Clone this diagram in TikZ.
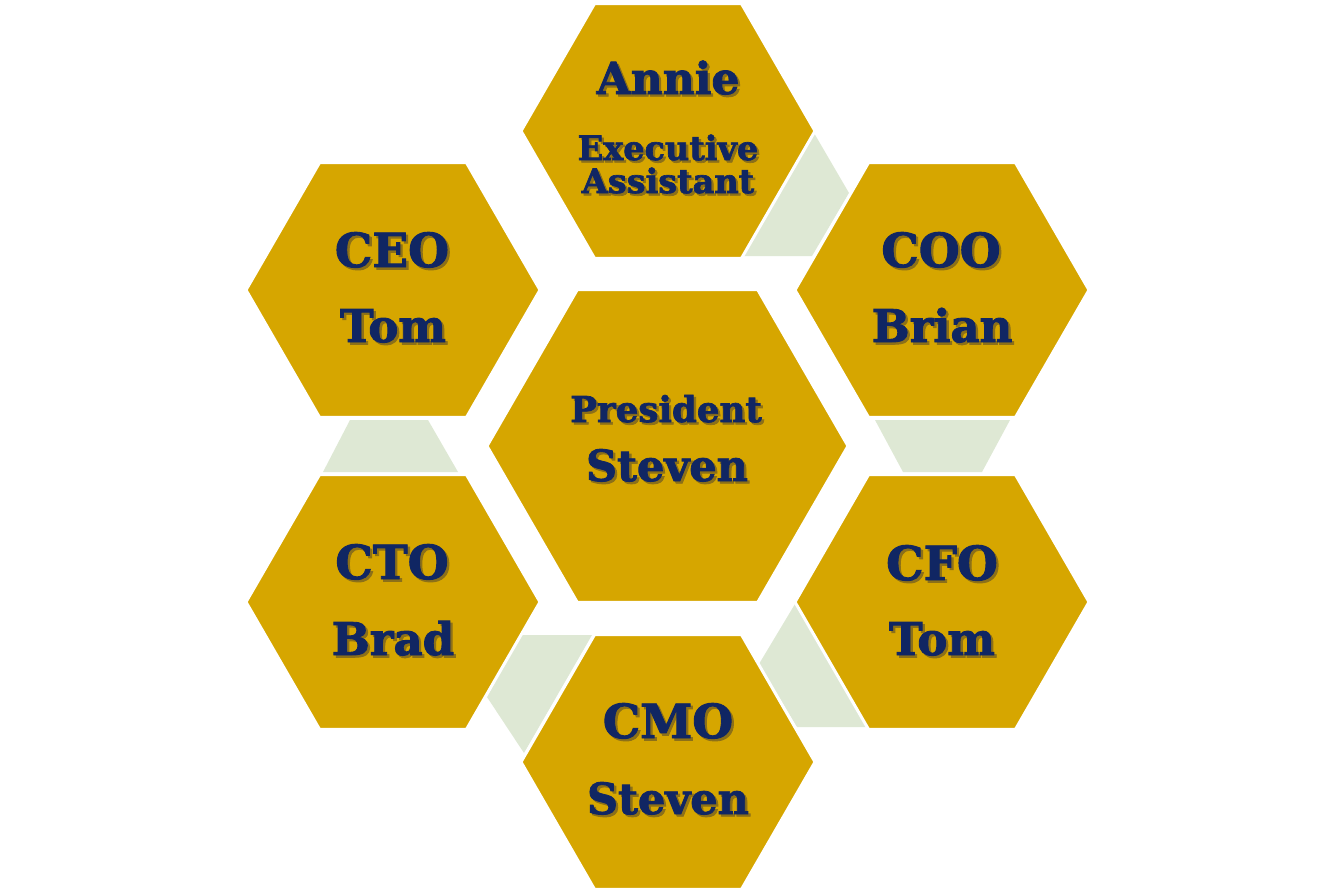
\documentclass[tikz,border=0pt]{standalone}
\usepackage{fontspec}
\setmainfont{DejaVu Serif}[BoldFeatures={FakeBold=2}]
\definecolor{gold}{RGB}{214,166,0}
\definecolor{pale}{RGB}{222,232,212}
\definecolor{navy}{RGB}{16,38,99}
\definecolor{shadowc}{RGB}{140,112,24}
\newcommand\hexat[3]{%
  \draw[hex] ({#1+#3},#2) -- ({#1+#3/2},{#2-0.866*#3}) -- ({#1-#3/2},{#2-0.866*#3})
    -- ({#1-#3},#2) -- ({#1-#3/2},{#2+0.866*#3}) -- ({#1+#3/2},{#2+0.866*#3}) -- cycle;}
\newcommand\shtext[1]{\makebox[0pt][l]{\kern2.3pt\raisebox{-2.3pt}{\color{shadowc}#1}}#1}
\newcommand\lineat[5]{% name, x, baseline y, size, text
  \node[lbl] (#1) at (#2,#3) {\fontsize{#4}{#4}\selectfont\shtext{#5}};}
\begin{document}
\begin{tikzpicture}[x=1pt,y=-1pt,
  hex/.style={fill=gold,draw=white,line width=3pt,line join=miter},
  gap/.style={fill=pale},
  lbl/.style={text=navy,font=\bfseries,anchor=base,inner sep=0pt}]
\useasboundingbox (0,0) rectangle (1333,892);
\fill[white] (0,0) rectangle (1333,892);
% pale connector pieces
\fill[gap] (814,133) -- (849,193) -- (812,256) -- (743,256) -- cycle;
\fill[gap] (350,420) -- (428,420) -- (458,472) -- (323,472) -- cycle;
\fill[gap] (875,420) -- (1010,420) -- (982,472) -- (903,472) -- cycle;
\fill[gap] (795,604) -- (759,664) -- (797,727) -- (866,727) -- cycle;
\fill[gap] (521,635) -- (592,635) -- (524,753) -- (487,697) -- cycle;
% hexagons
\hexat{668}{131}{147}
\hexat{393}{290}{147}
\hexat{942}{290}{147}
\hexat{393}{602}{147}
\hexat{942}{602}{147}
\hexat{668}{762}{147}
\hexat{667.5}{446}{180.5}
% labels
\lineat{annie}{668}{94}{44}{Annie}
\lineat{exec}{668}{160}{33.5}{Executive}
\lineat{assist}{668}{193}{33.5}{Assistant}
\lineat{ceo}{392}{267}{47}{CEO}
\lineat{ceoname}{393}{342}{45}{Tom}
\lineat{coo}{941}{267}{47}{COO}
\lineat{cooname}{942}{342}{45}{Brian}
\lineat{pres}{666}{422}{35.6}{President}
\lineat{presname}{667}{481}{43}{Steven}
\lineat{cto}{392}{579}{47}{CTO}
\lineat{ctoname}{393}{655}{45}{Brad}
\lineat{cfo}{942}{580}{47}{CFO}
\lineat{cfoname}{942}{655}{45}{Tom}
\lineat{cmo}{668}{738}{47}{CMO}
\lineat{cmoname}{668}{814}{43}{Steven}
\end{tikzpicture}
\end{document}
